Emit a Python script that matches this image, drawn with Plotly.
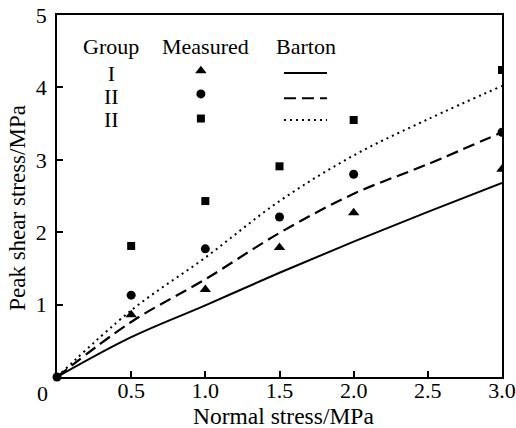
import plotly.graph_objects as go

# Normal stress levels (MPa)
normal_stress = [0.5, 1.0, 1.5, 2.0, 3.0]

# Measured peak shear stress (MPa)
measured_g1 = [0.86, 1.21, 1.79, 2.27, 2.87]
measured_g2 = [1.13, 1.77, 2.21, 2.80, 3.38]
measured_g3 = [1.81, 2.43, 2.91, 3.55, 4.24]

# Barton criterion curves
barton_x = [0.0, 0.5, 1.0, 1.5, 2.0, 2.5, 3.0]
barton_g1 = [0.0, 0.55, 0.99, 1.44, 1.87, 2.28, 2.68]
barton_g2 = [0.0, 0.76, 1.35, 1.99, 2.53, 2.94, 3.38]
barton_g3 = [0.0, 0.92, 1.65, 2.43, 3.06, 3.56, 4.02]

x_ticks = [0.5, 1.0, 1.5, 2.0, 2.5, 3.0]
x_tick_text = ["0.5", "1.0", "1.5", "2.0", "2.5", "3.0"]
y_ticks = [1, 2, 3, 4, 5]

FONT = "Liberation Serif, Times New Roman, serif"
BLACK = "#000000"
TXT = 22

fig = go.Figure()

# Barton curves
fig.add_trace(go.Scatter(x=barton_x, y=barton_g1, mode="lines", line_shape="spline",
                         line=dict(color=BLACK, width=2), hoverinfo="skip"))
fig.add_trace(go.Scatter(x=barton_x, y=barton_g2, mode="lines", line_shape="spline",
                         line=dict(color=BLACK, width=2.2, dash="12px,6px"), hoverinfo="skip"))
fig.add_trace(go.Scatter(x=barton_x, y=barton_g3, mode="lines", line_shape="spline",
                         line=dict(color=BLACK, width=2, dash="2px,4px"), hoverinfo="skip"))

# Measured points
fig.add_trace(go.Scatter(x=normal_stress, y=measured_g1, mode="markers",
                         marker=dict(symbol="triangle-up", size=10, color=BLACK)))
fig.add_trace(go.Scatter(x=normal_stress, y=measured_g2, mode="markers",
                         marker=dict(symbol="circle", size=9, color=BLACK)))
fig.add_trace(go.Scatter(x=normal_stress, y=measured_g3, mode="markers",
                         marker=dict(symbol="square", size=8, color=BLACK)))

# Common origin point
fig.add_trace(go.Scatter(x=[0], y=[0], mode="markers",
                         marker=dict(symbol="circle", size=9, color=BLACK), cliponaxis=False))

# Legend table drawn inside the plot
legend_group_labels = ["I", "II", "II"]
legend_marker_y = [4.23, 3.91, 3.57]
legend_line_y = [4.20, 3.85, 3.55]
legend_symbols = ["triangle-up", "circle", "square"]
legend_sizes = [10, 9, 8]
legend_dashes = ["solid", "12px,6px", "2px,4px"]
legend_widths = [2, 2.2, 2]

for my, sym, sz in zip(legend_marker_y, legend_symbols, legend_sizes):
    fig.add_trace(go.Scatter(x=[0.97], y=[my], mode="markers",
                             marker=dict(symbol=sym, size=sz, color=BLACK)))
for ly, dash, w in zip(legend_line_y, legend_dashes, legend_widths):
    fig.add_trace(go.Scatter(x=[1.53, 1.82], y=[ly, ly], mode="lines",
                             line=dict(color=BLACK, width=w, dash=dash)))

annotations = [
    dict(x=0.366, y=4.56, text="Group"),
    dict(x=1.0, y=4.56, text="Measured"),
    dict(x=1.68, y=4.56, text="Barton"),
]
annotations = [dict(a, xref="x", yref="y", showarrow=False,
                    font=dict(family=FONT, size=TXT, color=BLACK)) for a in annotations]

# Group column as one block; the small base size sets the tight row pitch
group_text = "<br>".join(f'<span style="font-size:{TXT}px">{g}</span>'
                         for g in legend_group_labels)
annotations.append(dict(x=0.366, y=3.87, xref="x", yref="y", text=group_text,
                        showarrow=False, xanchor="center", yanchor="middle",
                        font=dict(family=FONT, size=17.7, color=BLACK)))

# Shared origin label
annotations.append(dict(x=-0.033, y=-0.045, xref="paper", yref="paper", text="0",
                        showarrow=False, xanchor="center", yanchor="middle",
                        font=dict(family=FONT, size=TXT, color=BLACK)))
# Axis titles
annotations.append(dict(x=0.51, y=-0.107, xref="paper", yref="paper",
                        text="Normal stress/MPa", showarrow=False,
                        xanchor="center", yanchor="middle",
                        font=dict(family=FONT, size=23.5, color=BLACK)))
annotations.append(dict(x=-0.088, y=0.467, xref="paper", yref="paper",
                        text="Peak shear stress/MPa", showarrow=False, textangle=-90,
                        xanchor="center", yanchor="middle",
                        font=dict(family=FONT, size=23, color=BLACK)))

fig.update_layout(
    width=516, height=428,
    margin=dict(l=57, r=14, t=15, b=51),
    paper_bgcolor="white", plot_bgcolor="white",
    showlegend=False,
    font=dict(family=FONT, size=TXT, color=BLACK),
    annotations=annotations,
)
fig.update_xaxes(range=[0, 3.0], tickvals=x_ticks, ticktext=x_tick_text,
                 ticks="inside", ticklen=6, tickwidth=1.5, tickcolor=BLACK,
                 showline=True, linecolor=BLACK, linewidth=1.5, mirror=True,
                 showgrid=False, zeroline=False, automargin=False,
                 ticklabeloverflow="allow", ticklabelstandoff=-7,
                 tickfont=dict(family=FONT, size=TXT, color=BLACK))
fig.update_yaxes(range=[0, 5], tickvals=y_ticks,
                 ticks="inside", ticklen=6, tickwidth=1.5, tickcolor=BLACK,
                 showline=True, linecolor=BLACK, linewidth=1.5, mirror=True,
                 showgrid=False, zeroline=False, automargin=False,
                 ticklabeloverflow="allow", ticklabelstandoff=4,
                 tickfont=dict(family=FONT, size=TXT, color=BLACK))

fig.write_html("out.html")
